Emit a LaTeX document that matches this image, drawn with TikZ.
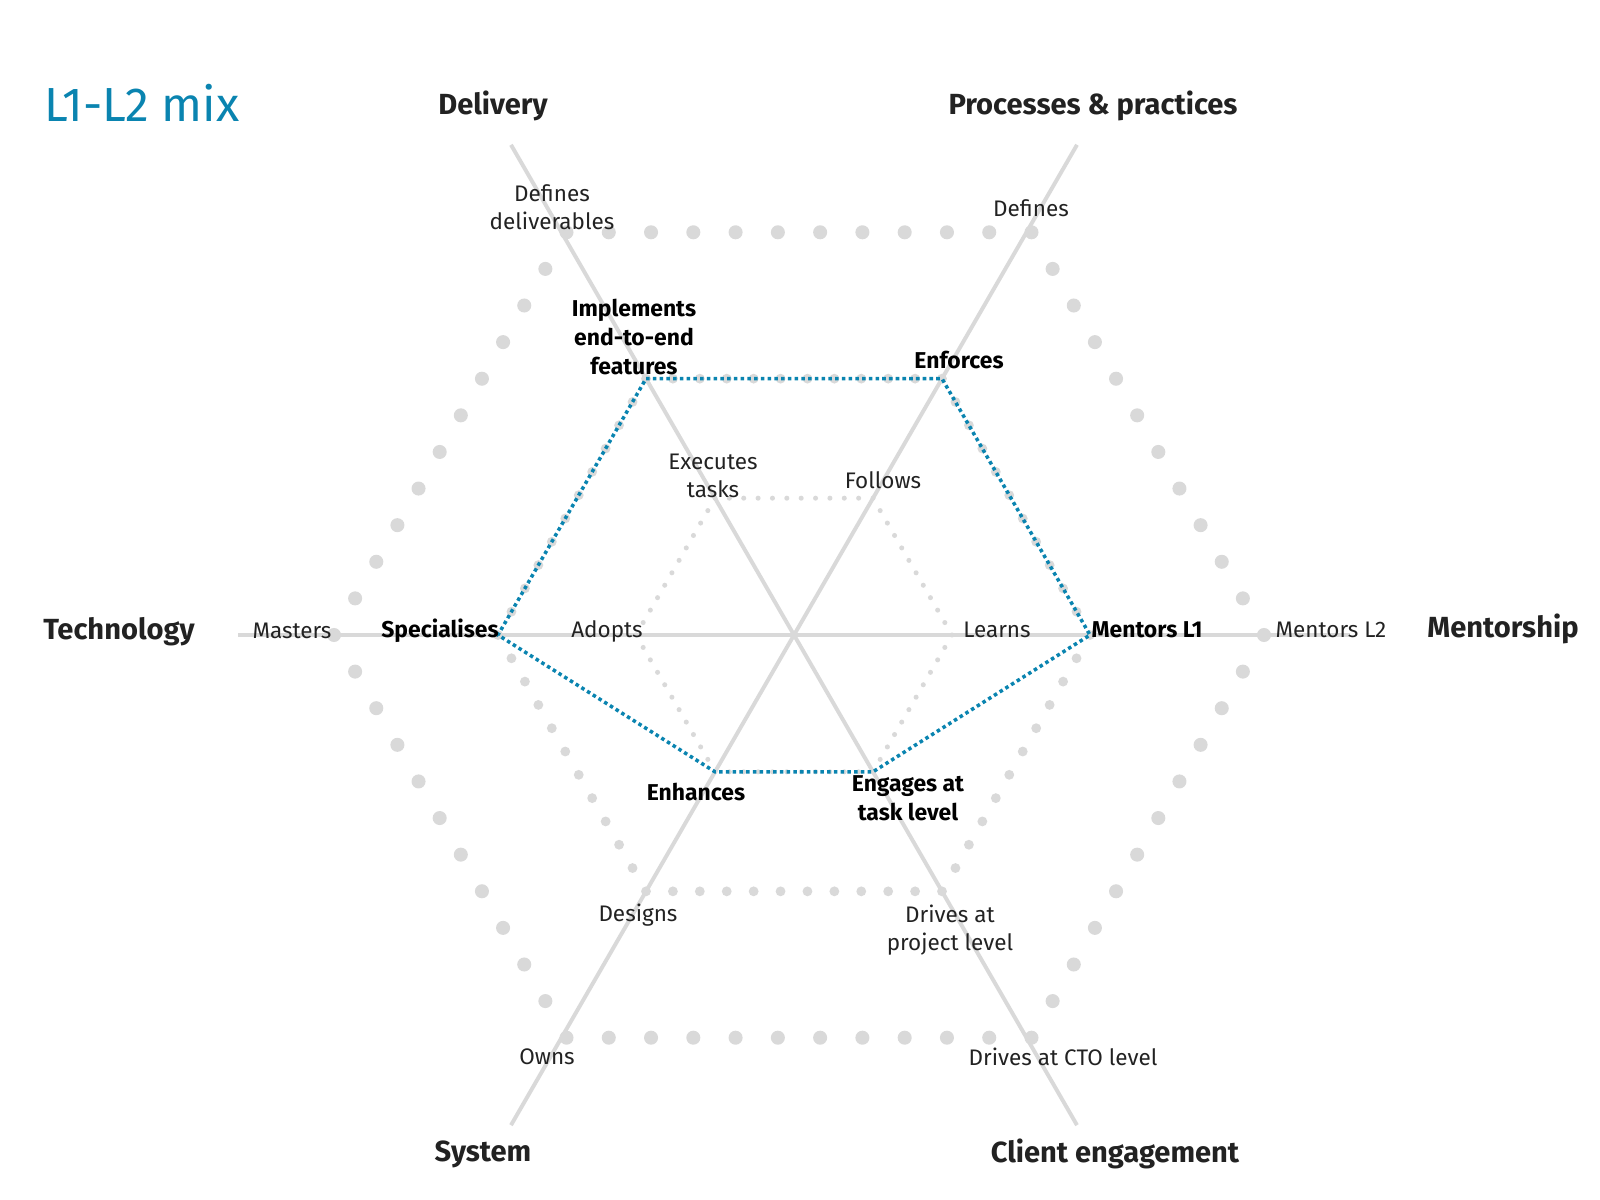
\documentclass[tikz,border=0pt]{standalone}
\usepackage{fontspec}
\setmainfont{Fira Sans}
\usetikzlibrary{calc}
\definecolor{axisgray}{HTML}{D9D9D9}
\definecolor{mixblue}{HTML}{0A84B0}
\definecolor{labelgray}{HTML}{222222}

\begin{document}
\begin{tikzpicture}[x=0.025cm, y=-0.025cm,
    axis/.style={draw=axisgray, line width=2.8pt},
    level/.style={inner sep=0pt, align=center, text=labelgray, font=\fontsize{16}{20.3}\selectfont},
    chosen/.style={level, text=black, font=\fontsize{16.3}{20.3}\selectfont\bfseries},
    dimension/.style={inner sep=0pt, text=labelgray, font=\fontsize{20.7}{24}\selectfont\bfseries},
    mix/.style={draw=mixblue, line width=2.5pt, dash pattern=on 2.5pt off 2.3pt}]
\useasboundingbox (0,0) rectangle (1600,1200);

% centre and axis ends
\coordinate (c) at (794,635);
\foreach \a/\len [count=\i from 0] in {0/556,60/566,120/566,180/556,240/566,300/566}
  \coordinate (ax\i) at ({794+\len*cos(\a)},{635-\len*sin(\a)});

% axes
\foreach \i in {0,...,5}
  \draw[axis] (c) -- (ax\i);

% three levels, drawn as dotted hexagons
\foreach \h/\cx/\r/\d in {1/794/158/1.8pt, 2/794/296/3.5pt, 3/799/465/5pt}{
  \foreach \k in {0,...,5}
    \coordinate (h\h v\k) at ({\cx+\r*cos(60*\k)},{635-\r*sin(60*\k)});
  \foreach \k [evaluate=\k as \n using {int(mod(\k+1,6))}] in {0,...,5}
    \foreach \j in {0,...,10}
      \fill[axisgray] ($(h\h v\k)!\j/11!(h\h v\n)$) circle (\d);
}

% the L1-L2 mix
\draw[mix] (h2v2) -- (h2v1) -- (h2v0) -- (h1v5) -- (h1v4) -- (h2v3) -- cycle;

% title
\node[anchor=west, inner sep=0pt, text=mixblue, font=\fontsize{34}{40}\selectfont] (title) at (44,103) {L1-L2 mix};

% dimension names
\node[dimension] (delivery) at (493,106) {Delivery};
\node[dimension] (processes) at (1093,106) {Processes \& practices};
\node[dimension] (technology) at (119,632) {Technology};
\node[dimension] (mentorship) at (1503,629) {Mentorship};
\node[dimension] (system) at (483,1154) {System};
\node[dimension] (client) at (1115,1154) {Client engagement};

% delivery levels
\node[level] (del3) at (552,207) {Defines\\deliverables};
\node[chosen] (del2) at (634,337) {Implements\\end-to-end\\features};
\node[level] (del1) at (713,476) {Executes\\tasks};

% processes levels
\node[level] (pro3) at (1031,208) {Defines};
\node[chosen] (pro2) at (959,360) {Enforces};
\node[level] (pro1) at (883,480) {Follows};

% technology levels
\node[level] (tec3) at (292,631) {Masters};
\node[chosen] (tec2) at (440,631) {Specialises};
\node[level] (tec1) at (607,631) {Adopts};

% mentorship levels
\node[level] (men1) at (997,630) {Learns};
\node[chosen] (men2) at (1147,630) {Mentors L1};
\node[level] (men3) at (1331,630) {Mentors L2};

% system levels
\node[chosen] (sys1) at (696,792) {Enhances};
\node[level] (sys2) at (638,915) {Designs};
\node[level] (sys3) at (547,1057) {Owns};

% client engagement levels
\node[chosen] (cli1) at (908,798) {Engages at\\task level};
\node[level] (cli2) at (950,930) {Drives at\\project level};
\node[level] (cli3) at (1063,1057) {Drives at CTO level};
\end{tikzpicture}
\end{document}
